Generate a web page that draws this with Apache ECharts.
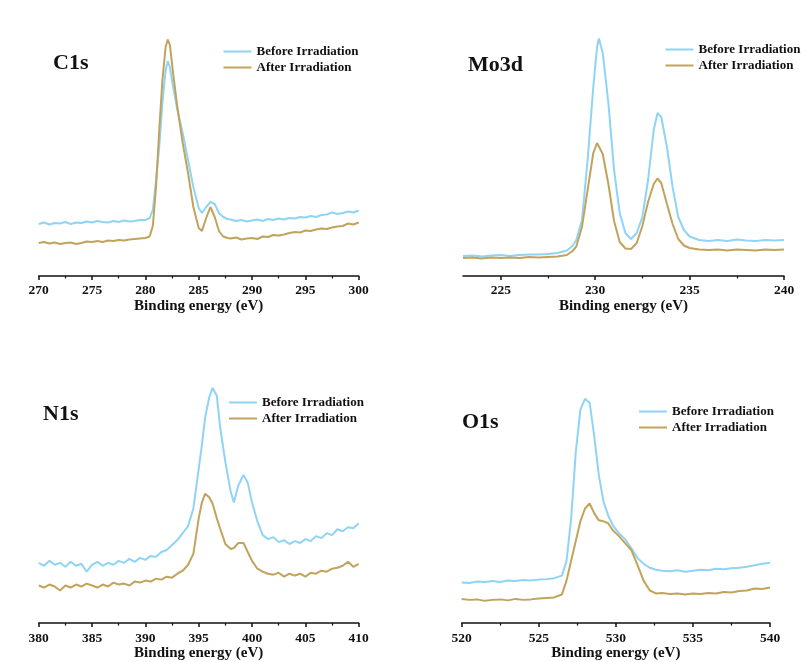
<!DOCTYPE html>
<html><head><meta charset="utf-8">
<script src="https://cdn.jsdelivr.net/npm/echarts@6/dist/echarts.min.js"></script>
<style>html,body{margin:0;padding:0;background:#fff}#chart{width:807px;height:662px}</style>
</head><body><div id="chart"></div>
<script>
// ---- Data (intensity read as height above the axis, arbitrary units) ----
const seriesNames = ['Before Irradiation', 'After Irradiation'];
const panelLabels = ['C1s', 'Mo3d', 'N1s', 'O1s'];
const axisTitle = 'Binding energy (eV)';

const c1sEnergy = [270,270.5,271,271.5,272,272.5,273,273.5,274,274.5,275,275.5,276,276.5,277,277.5,278,278.5,279,279.5,280,
  280.4,280.7,281,281.3,281.6,281.9,282.1,282.3,282.6,283,283.5,284,284.5,285,285.3,285.7,286.1,286.5,286.9,287.3,287.7,
  288,288.5,289,289.5,290,290.5,291,291.5,292,292.5,293,293.5,294,294.5,295,295.5,296,296.5,297,297.5,298,298.5,299,299.5,300];
const c1sBefore = [52,53.5,51.5,53,52.5,54,52,53.5,53,54.5,53.5,55,54,53.5,55,54,55.5,54.5,55,56,56,
  58,66,96,129,173,206,215,209,189,166,143,116,89,68,63,69,74,72,63,59,57,
  56.5,55,56,54.5,55.5,56.5,55,57,56,57.5,56.5,58,57.5,59,58.5,60,59,61,61.5,63.5,62,63,64.5,63.5,65.5];
const c1sAfter = [33,34,32.5,33.5,32,33,33.5,32,33,34.5,34,35,34,35.5,35,36,35.5,36.5,37,37.5,38,
  39.5,50,89,146,196,229,236.5,231,203,169,133,103,69,48,45,58,69,59,45,39.5,38,
  37.5,38.5,36.5,37.5,38,37,39.5,39,41,40.5,41.5,43,44,43.5,45.5,45,46.5,47.5,47,48.5,49.5,50,52.5,51.5,53.5];

const mo3dEnergy = [223,223.5,224,224.5,225,225.5,226,226.5,227,227.5,228,
  228.5,228.8,229,229.3,229.6,229.9,230.1,230.2,230.4,230.7,231,231.3,231.6,231.9,232.2,232.5,232.8,233.1,233.3,233.5,233.8,234.1,234.4,234.7,235,235.5,
  236,236.5,237,237.5,238,238.5,239,239.5,240];
const mo3dBefore = [20,20.5,19.5,20.5,21,20,21,21.5,21.5,22,23,
  25.5,30,36,56,116,189,229,237.5,223,173,106,63,43,37,43,59,96,146,163,159,129,89,59,46,39.5,36,
  35,36,35,36.5,35.5,35,36,35.5,36];
const mo3dAfter = [18,18.5,17.5,18.5,18,18.5,18,19,18.5,19,19.5,
  21,25,29.5,49,86,123,133,131,122,92,55,34,27.5,27,33,50,74,92,97.5,93,72,52,37,30.5,28,26.5,
  26,26.5,25.5,26.5,26,25.5,26.5,26,26.5];

const n1sEnergy = [380,380.5,381,381.5,382,382.5,383,383.5,384,384.5,385,385.5,386,386.5,387,387.5,388,388.5,389,389.5,390,390.5,391,391.5,392,392.5,393,
  393.5,394,394.5,395,395.3,395.6,396,396.3,396.7,397,397.5,398,398.3,398.7,399.2,399.6,400,400.5,
  401,401.5,402,402.5,403,403.5,404,404.5,405,405.5,406,406.5,407,407.5,408,408.5,409,409.5,410];
const n1sBefore = [61,58,63,59,61,57,62,58,60,52,59,62,58,61,59,63,61,65,62,66,64,68,67,72,74,79,84,
  91,98,116,156,180,208,229,238,230,199,163,133,122,139,150,142,122,103,
  89,85,87,82,84,80,83,81,85,83,88,86,91,89,95,93,97,96,101];
const n1sAfter = [38,36,39,37,33,38,36,39,37,40,38,36,39,37,41,39,40,38,42,41,43,42,45,44,47,46,50,
  53,59,70,106,122,131,127,121,106,96,80,75,76,81,81,72,63,55,
  52,50,49,51,47,50,48,50,47,51,50,53,52,55,56,58,62,57,60];

const o1sEnergy = [520,520.5,521,521.5,522,522.5,523,523.5,524,524.5,525,525.5,526,
  526.5,526.8,527.1,527.4,527.7,528,528.3,528.6,528.9,529.2,529.5,529.8,530.2,530.6,531,531.4,531.8,532.2,532.6,533,
  533.5,534,534.5,535,535.5,536,536.5,537,537.5,538,538.5,539,539.5,540];
const o1sBefore = [41,40.5,42,41.5,42.5,41.5,43,42.5,43.5,43,44,44.5,45.5,
  48,63,106,173,216,227,223,189,149,123,109,99,91,85,76,66,60,56,54,53,
  52.5,53.5,52,53,54,53.5,55,54.5,55.5,56,57,58.5,60,61];
const o1sAfter = [24.5,23.5,24,22.5,23.5,24,23,24.5,23.5,24,25,25.5,26,
  29,43,63,83,103,116,121,111,104,103,101,94,88,81,74,59,43,33,30,30.5,
  29.5,30,29,30,29.5,30.5,30,31.5,31,32.5,33,35,34.5,36];

const c1sTicks = [270, 300];
const mo3dRange = [223, 240];
const mo3dMajorTicks = [225, 230, 235, 240];
const mo3dMinorTicks = [227.5, 232.5, 237.5];
const n1sTicks = [380, 410];
const o1sTicks = [520, 540];

// ---- Styling / layout ----
const BLUE = '#8fd4f6';
const GOLD = '#c2a35c';
const INK = '#111';
const SERIF = '"Liberation Serif","Times New Roman",serif';
const YMAX = 246;

const zip = (xs, ys) => xs.map((x, i) => [x, ys[i]]);

const grids = [
  {left: 38.7, right: 807 - 358.7, top: 30, height: 246},
  {left: 463, right: 807 - 784, top: 30, height: 246},
  {left: 38.7, right: 807 - 358.7, top: 380, height: 246},
  {left: 461.7, right: 807 - 770, top: 380, height: 246}
];

const labelStyle = {color: INK, fontFamily: SERIF, fontWeight: 'bold', fontSize: 13.5, margin: 8};
const nameStyle = {color: INK, fontFamily: SERIF, fontWeight: 'bold', fontSize: 15};
const lineSt = {color: INK, width: 1.5};

function stdAxis(gi, range) {
  return {
    gridIndex: gi, type: 'value', min: range[0], max: range[1], interval: 5,
    axisLine: {show: true, onZero: false, lineStyle: lineSt},
    axisTick: {show: true, length: 4, lineStyle: lineSt},
    minorTick: {show: true, splitNumber: 2, length: 2.5, lineStyle: {color: INK, width: 1.2}},
    splitLine: {show: false}, minorSplitLine: {show: false},
    axisLabel: labelStyle,
    name: axisTitle, nameLocation: 'middle', nameGap: 21, nameTextStyle: nameStyle
  };
}

const xAxes = [
  stdAxis(0, c1sTicks),
  {
    gridIndex: 1, type: 'value', min: mo3dRange[0], max: mo3dRange[1],
    axisLine: {show: true, onZero: false, lineStyle: lineSt},
    axisTick: {show: true, length: 4, lineStyle: lineSt, customValues: mo3dMajorTicks},
    splitLine: {show: false},
    axisLabel: Object.assign({}, labelStyle, {customValues: mo3dMajorTicks}),
    name: axisTitle, nameLocation: 'middle', nameGap: 21, nameTextStyle: nameStyle
  },
  {
    gridIndex: 1, type: 'value', min: mo3dRange[0], max: mo3dRange[1], position: 'bottom',
    axisLine: {show: false},
    axisTick: {show: true, length: 2.5, lineStyle: {color: INK, width: 1.2}, customValues: mo3dMinorTicks},
    axisLabel: {show: false}, splitLine: {show: false}
  },
  stdAxis(2, n1sTicks),
  stdAxis(3, o1sTicks)
];

const yAxes = [0, 1, 2, 3].map(gi => ({gridIndex: gi, type: 'value', min: 0, max: YMAX, show: false}));

function mk(name, color, xi, yi, data) {
  return {
    name, type: 'line', xAxisIndex: xi, yAxisIndex: yi, data,
    symbol: 'none', smooth: false, animation: false,
    lineStyle: {color, width: 2}, itemStyle: {color}
  };
}

const series = [
  mk(seriesNames[0], BLUE, 0, 0, zip(c1sEnergy, c1sBefore)),
  mk(seriesNames[1], GOLD, 0, 0, zip(c1sEnergy, c1sAfter)),
  mk(seriesNames[0], BLUE, 1, 1, zip(mo3dEnergy, mo3dBefore)),
  mk(seriesNames[1], GOLD, 1, 1, zip(mo3dEnergy, mo3dAfter)),
  mk(seriesNames[0], BLUE, 3, 2, zip(n1sEnergy, n1sBefore)),
  mk(seriesNames[1], GOLD, 3, 2, zip(n1sEnergy, n1sAfter)),
  mk(seriesNames[0], BLUE, 4, 3, zip(o1sEnergy, o1sBefore)),
  mk(seriesNames[1], GOLD, 4, 3, zip(o1sEnergy, o1sAfter))
];

const legendPos = [
  {left: 223.5, top: 45},
  {left: 665.5, top: 43},
  {left: 229, top: 396},
  {left: 639, top: 405}
];
const legends = legendPos.map(p => ({
  data: seriesNames, orient: 'vertical', left: p.left, top: p.top,
  icon: 'rect', itemWidth: 28, itemHeight: 2, itemGap: 3, padding: 0,
  selectedMode: false,
  textStyle: {color: INK, fontFamily: SERIF, fontWeight: 'bold', fontSize: 13, lineHeight: 13}
}));

const labelPos = [[53, 63], [468, 65], [43, 414], [462, 422]];
const graphics = panelLabels.map((t, i) => ({
  type: 'text', x: labelPos[i][0], y: labelPos[i][1],
  style: {text: t, font: 'bold 22px ' + SERIF, fill: INK, verticalAlign: 'middle', align: 'left'}
}));

const chart = echarts.init(document.getElementById('chart'), null, {renderer: 'canvas'});
chart.setOption({
  backgroundColor: '#fff',
  animation: false,
  grid: grids,
  xAxis: xAxes,
  yAxis: yAxes,
  legend: legends,
  graphic: graphics,
  series
});
</script>
</body></html>
